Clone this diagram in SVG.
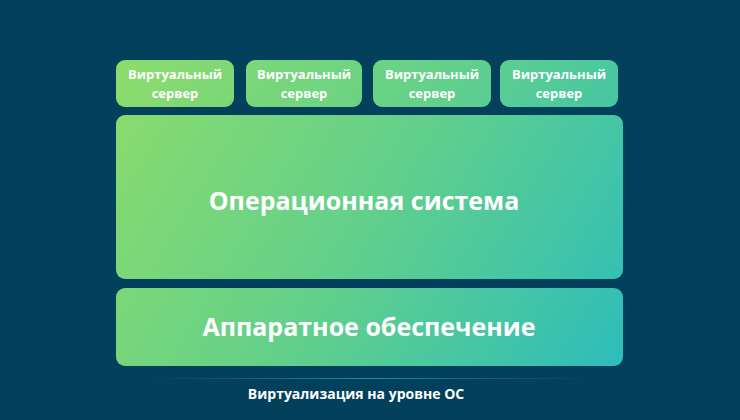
<svg xmlns="http://www.w3.org/2000/svg" width="740" height="420" viewBox="0 0 740 420">
<defs>
<linearGradient id="g" gradientUnits="userSpaceOnUse" x1="116" y1="60" x2="623" y2="366">
<stop offset="0" stop-color="#8ddc6b"/><stop offset="0.5" stop-color="#62d08b"/><stop offset="1" stop-color="#2dbdba"/>
</linearGradient>
<linearGradient id="ln" x1="0" y1="0" x2="1" y2="0">
<stop offset="0" stop-color="#1a8ab8" stop-opacity="0"/><stop offset="0.5" stop-color="#1a8ab8"/><stop offset="1" stop-color="#1a8ab8" stop-opacity="0"/>
</linearGradient>
<style>
rect.b{fill:url(#g)}
text{font-family:"Open Sans","Liberation Sans",sans-serif;font-weight:bold;fill:#fff;text-anchor:middle}
.s{font-size:13px}
.l{font-size:25px}
</style>
</defs>
<rect width="740" height="420" fill="#03405c"/>
<g id="vs1"><rect class="b" x="116" y="60" width="118" height="47" rx="9"/><text class="s" x="175" y="79">Виртуальный</text><text class="s" x="175" y="98">сервер</text></g>
<g id="vs2"><rect class="b" x="246" y="60" width="116" height="47" rx="9"/><text class="s" x="304" y="79">Виртуальный</text><text class="s" x="304" y="98">сервер</text></g>
<g id="vs3"><rect class="b" x="373" y="60" width="118" height="47" rx="9"/><text class="s" x="432" y="79">Виртуальный</text><text class="s" x="432" y="98">сервер</text></g>
<g id="vs4"><rect class="b" x="500" y="60" width="118" height="47" rx="9"/><text class="s" x="559" y="79">Виртуальный</text><text class="s" x="559" y="98">сервер</text></g>
<g id="os"><rect class="b" x="116" y="115" width="507" height="164" rx="9"/><text class="l" x="364" y="210">Операционная система</text></g>
<g id="hw"><rect class="b" x="116" y="288" width="507" height="78" rx="9"/><text class="l" x="369" y="336">Аппаратное обеспечение</text></g>
<g id="connectors"></g>
<rect x="150" y="378" width="440" height="1" fill="url(#ln)"/>
<text x="356" y="399" style="font-size:14px">Виртуализация на уровне ОС</text>
</svg>
